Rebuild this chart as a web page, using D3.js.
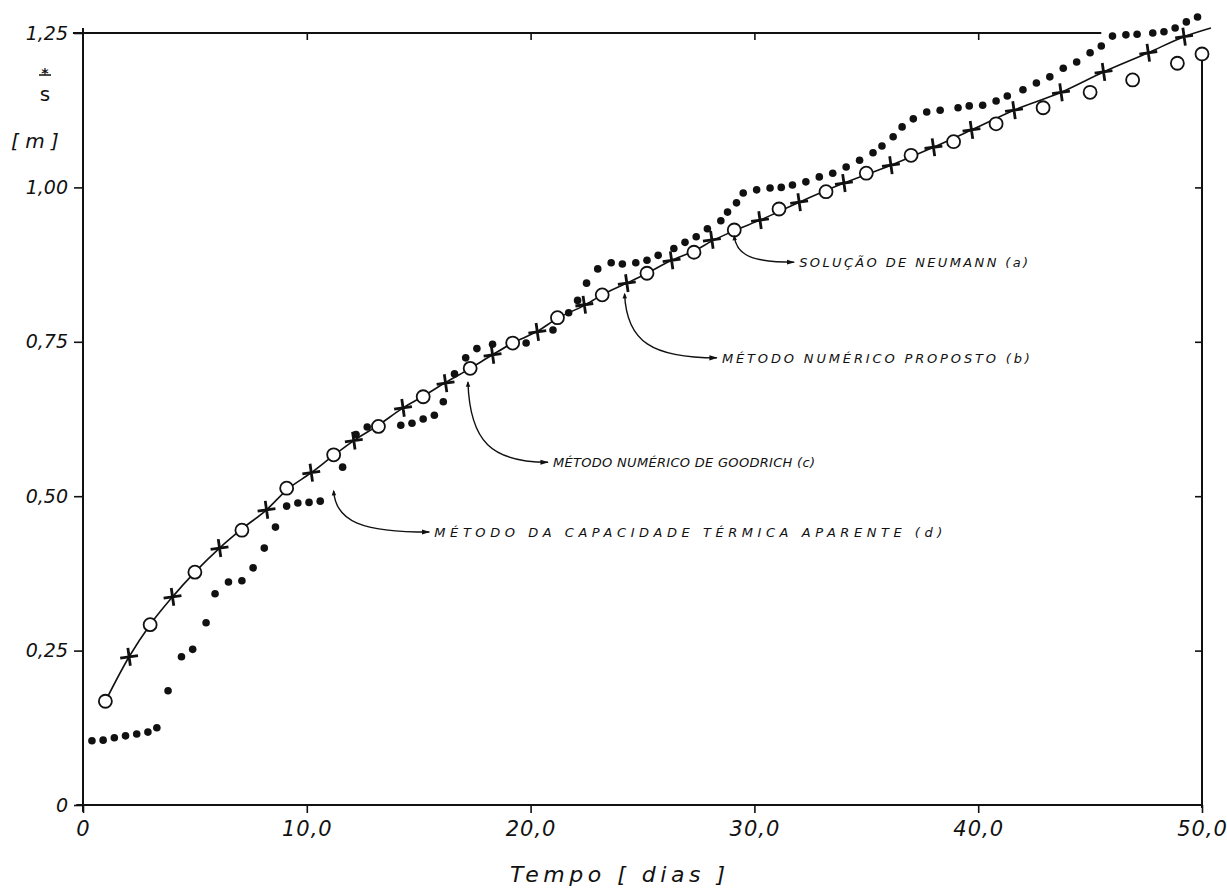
<!DOCTYPE html>
<html>
<head>
<meta charset="utf-8">
<script src="https://cdn.jsdelivr.net/npm/d3@7"></script>
<style>
  body { margin: 0; background: #fff; }
  text { font-family: "DejaVu Sans", sans-serif; fill: #111; }
</style>
</head>
<body>
<div id="chart"></div>
<script>
// axis ticks
var xTicks = [0, 10, 20, 30, 40, 50];
var xTickLabels = ["0", "10,0", "20,0", "30,0", "40,0", "50,0"];
var yTicks = [0, 0.25, 0.5, 0.75, 1.0, 1.25];
var yTickLabels = ["0", "0,25", "0,50", "0,75", "1,00", "1,25"];

// (a) Solução de Neumann - solid curve
var neuT = [1.0, 2.06, 3.0, 4.0, 5.0, 6.1, 7.1, 8.2, 9.1, 10.2, 11.2, 12.1, 13.2, 14.3, 15.2, 16.2, 17.3, 18.3, 19.2, 20.3,
  21.2, 22.4, 23.2, 24.3, 25.2, 26.3, 27.3, 28.1, 29.1, 30.25, 32.0, 34.0, 36.1, 38.0, 39.7, 41.6, 43.7, 45.6, 47.6, 49.2, 50.4];
var neuS = [0.168, 0.240, 0.292, 0.337, 0.377, 0.416, 0.447, 0.478, 0.510, 0.538, 0.566, 0.590, 0.615, 0.643, 0.662, 0.684, 0.707, 0.729, 0.748, 0.767,
  0.788, 0.809, 0.826, 0.845, 0.861, 0.882, 0.897, 0.913, 0.930, 0.947, 0.976, 1.007, 1.036, 1.065, 1.093, 1.125, 1.154, 1.187, 1.218, 1.244, 1.258];

// (b) Método numérico proposto - crosses
var propT = [2.06, 4.0, 6.1, 8.2, 10.2, 12.1, 14.3, 16.2, 18.3, 20.3, 22.4, 24.3, 26.3, 28.1, 30.25, 32.0, 34.0, 36.1, 38.0, 39.7, 41.6, 43.7, 45.6, 47.6, 49.2];
var propS = [0.240, 0.337, 0.416, 0.478, 0.538, 0.590, 0.643, 0.683, 0.729, 0.766, 0.810, 0.845, 0.882, 0.915, 0.947, 0.976, 1.007, 1.036, 1.065, 1.093, 1.125, 1.154, 1.187, 1.218, 1.244];

// (c) Método numérico de Goodrich - open circles
var goodT = [1.0, 3.0, 5.0, 7.1, 9.1, 11.2, 13.2, 15.2, 17.3, 19.2, 21.2, 23.2, 25.2, 27.3, 29.1, 31.1, 33.2, 35.0, 37.0, 38.9, 40.8, 42.9, 45.0, 46.9, 48.9, 50.0];
var goodS = [0.168, 0.292, 0.377, 0.445, 0.513, 0.567, 0.613, 0.661, 0.707, 0.748, 0.789, 0.826, 0.861, 0.895, 0.931, 0.965, 0.993, 1.023, 1.052, 1.074, 1.103, 1.129, 1.154, 1.174, 1.201, 1.216];

// (d) Método da capacidade térmica aparente - dots
var capT = [0.4, 0.9, 1.4, 1.9, 2.4, 2.9, 3.3, 3.8, 4.4, 4.9, 5.5, 5.9, 6.5, 7.1, 7.6, 8.1, 8.6, 9.1, 9.6, 10.1, 10.6, 11.6,
  12.2, 12.7, 14.2, 14.7, 15.2, 15.7, 16.1, 16.6, 17.1, 17.6, 18.3, 19.8, 21.0, 21.7, 22.1, 22.5, 23.0, 23.6, 24.1, 24.7, 25.2,
  25.7, 26.4, 26.9, 27.4, 27.9, 28.5, 28.8, 29.2, 29.5, 30.1, 30.7, 31.2, 31.7, 32.3, 32.9, 33.5, 34.1, 34.7, 35.3, 35.7,
  36.2, 36.6, 37.1, 37.7, 38.3, 39.1, 39.6, 40.2, 40.8, 41.3, 42.0, 42.6, 43.2, 43.8, 44.4, 45.0, 45.5, 46.0, 46.6, 47.1,
  47.8, 48.3, 48.8, 49.3, 49.8];
var capS = [0.104, 0.105, 0.109, 0.112, 0.115, 0.118, 0.125, 0.185, 0.240, 0.252, 0.295, 0.342, 0.361, 0.363, 0.384, 0.416, 0.450, 0.484, 0.489, 0.490, 0.492, 0.547,
  0.600, 0.612, 0.615, 0.618, 0.625, 0.631, 0.653, 0.698, 0.724, 0.739, 0.746, 0.748, 0.769, 0.797, 0.817, 0.845, 0.868, 0.878, 0.876, 0.878, 0.882,
  0.890, 0.901, 0.911, 0.920, 0.933, 0.946, 0.960, 0.975, 0.991, 0.996, 0.999, 1.000, 1.004, 1.009, 1.017, 1.023, 1.033, 1.044, 1.056, 1.067,
  1.082, 1.098, 1.111, 1.122, 1.125, 1.129, 1.132, 1.133, 1.140, 1.148, 1.158, 1.169, 1.179, 1.193, 1.203, 1.218, 1.229, 1.245, 1.247, 1.248,
  1.250, 1.252, 1.258, 1.268, 1.276];

// leader labels
var annLabels = ["SOLUÇÃO  DE  NEUMANN (a)", "MÉTODO  NUMÉRICO  PROPOSTO (b)", "MÉTODO NUMÉRICO  DE  GOODRICH (c)", "MÉTODO  DA  CAPACIDADE  TÉRMICA  APARENTE (d)"];
var annPointT = [29.1, 24.2, 17.2, 11.2];
var annPointS = [0.928, 0.834, 0.691, 0.515];
var annTextT = [32.0, 28.55, 21.0, 15.7];
var annTextS = [0.879, 0.724, 0.555, 0.442];

var W = 1227, H = 892;
var margin = {top: 33, right: 25, bottom: 87, left: 83};

var x = d3.scaleLinear().domain([0, 50]).range([margin.left, W - margin.right]);
var y = d3.scaleLinear().domain([0, 1.25]).range([H - margin.bottom, margin.top]);

var svg = d3.select("#chart").append("svg")
  .attr("width", W)
  .attr("height", H);

var ink = "#111";

// frame (top and right lines are broken near the upper right corner, as drawn)
var frame = svg.append("g").attr("stroke", ink).attr("stroke-width", 2).attr("fill", "none");
frame.append("line").attr("x1", x(0)).attr("x2", x(0)).attr("y1", y(1.258)).attr("y2", y(-0.011));
frame.append("line").attr("x1", x(-0.3)).attr("x2", x(50)).attr("y1", y(0)).attr("y2", y(0));
frame.append("line").attr("x1", x(-0.45)).attr("x2", x(45.5)).attr("y1", y(1.25)).attr("y2", y(1.25));
frame.append("line").attr("x1", x(50)).attr("x2", x(50)).attr("y1", y(1.21)).attr("y2", y(-0.005));

var yAxis = svg.append("g")
  .attr("transform", "translate(" + x(0) + ",0)")
  .call(d3.axisLeft(y).tickValues(yTicks).tickFormat(function(d, i){ return yTickLabels[i]; }).tickSize(9).tickPadding(6));

var xAxis = svg.append("g")
  .attr("transform", "translate(0," + y(0) + ")")
  .call(d3.axisBottom(x).tickValues(xTicks).tickFormat(function(d, i){ return xTickLabels[i]; }).tickSize(8).tickPadding(8));

// inner ticks on top and right
var topTicks = svg.append("g")
  .attr("transform", "translate(0," + y(1.25) + ")")
  .call(d3.axisBottom(x).tickValues(xTicks.slice(1, 5)).tickSize(7).tickFormat(""));
var rightTicks = svg.append("g")
  .attr("transform", "translate(" + x(50) + ",0)")
  .call(d3.axisLeft(y).tickValues(yTicks.slice(1, 5)).tickSize(7).tickFormat(""));

[yAxis, xAxis, topTicks, rightTicks].forEach(function(g){
  g.select(".domain").remove();
  g.selectAll(".tick line").attr("stroke", ink).attr("stroke-width", 1.6);
});

yAxis.selectAll("text")
  .style("font-size", "19px")
  .style("font-style", "italic")
  .attr("fill", ink);
xAxis.selectAll("text")
  .style("font-size", "21px")
  .style("font-style", "italic")
  .style("letter-spacing", "1px")
  .attr("fill", ink);

// axis titles: s with a starred bar, then [m]
svg.append("text")
  .attr("x", 45).attr("y", 78)
  .attr("text-anchor", "middle")
  .style("font-size", "14px")
  .style("font-weight", "bold")
  .text("*");
svg.append("line")
  .attr("x1", 39).attr("x2", 51).attr("y1", 75).attr("y2", 75)
  .attr("stroke", ink).attr("stroke-width", 1.5);
svg.append("text")
  .attr("x", 45).attr("y", 101)
  .attr("text-anchor", "middle")
  .style("font-size", "20px")
  .text("s");

svg.append("text")
  .attr("x", 35).attr("y", 148)
  .attr("text-anchor", "middle")
  .style("font-size", "20px")
  .style("font-style", "italic")
  .text("[ m ]");

svg.append("text")
  .attr("x", (x(0) + x(50)) / 2 - 25)
  .attr("y", 882)
  .attr("text-anchor", "middle")
  .attr("textLength", 215)
  .attr("lengthAdjust", "spacing")
  .style("font-size", "22px")
  .style("font-style", "italic")
  .text("Tempo  [ dias ]");

// (a) Neumann curve
var line = d3.line()
  .x(function(d){ return x(d[0]); })
  .y(function(d){ return y(d[1]); })
  .curve(d3.curveMonotoneX);

svg.append("path")
  .datum(neuT.map(function(t, i){ return [t, neuS[i]]; }))
  .attr("d", line)
  .attr("fill", "none")
  .attr("stroke", ink)
  .attr("stroke-width", 1.6);

// (c) Goodrich circles
svg.append("g").selectAll("circle")
  .data(goodT.map(function(t, i){ return [t, goodS[i]]; }))
  .enter().append("circle")
  .attr("cx", function(d){ return x(d[0]); })
  .attr("cy", function(d){ return y(d[1]); })
  .attr("r", 6.5)
  .attr("fill", "#fff")
  .attr("stroke", ink)
  .attr("stroke-width", 1.8);

// (b) proposed method crosses
var crossSize = 9;
svg.append("g").selectAll("path")
  .data(propT.map(function(t, i){ return [t, propS[i]]; }))
  .enter().append("path")
  .attr("transform", function(d){ return "translate(" + x(d[0]) + "," + y(d[1]) + ") rotate(-8)"; })
  .attr("d", "M" + (-crossSize) + ",0H" + crossSize + "M0," + (-crossSize) + "V" + crossSize)
  .attr("stroke", ink)
  .attr("stroke-width", 2.8)
  .attr("fill", "none");

// (d) apparent heat capacity dots
svg.append("g").selectAll("circle")
  .data(capT.map(function(t, i){ return [t, capS[i]]; }))
  .enter().append("circle")
  .attr("cx", function(d){ return x(d[0]); })
  .attr("cy", function(d){ return y(d[1]); })
  .attr("r", 3.8)
  .attr("fill", ink);

// leader lines and labels
var defs = svg.append("defs");
defs.append("marker")
  .attr("id", "arrow")
  .attr("viewBox", "0 0 10 10")
  .attr("refX", 9).attr("refY", 5)
  .attr("markerWidth", 6).attr("markerHeight", 6)
  .attr("orient", "auto")
  .append("path").attr("d", "M0,2L10,5L0,8z").attr("fill", ink);
defs.append("marker")
  .attr("id", "tail")
  .attr("viewBox", "0 0 10 10")
  .attr("refX", 2).attr("refY", 5)
  .attr("markerWidth", 9).attr("markerHeight", 4)
  .attr("orient", "auto")
  .append("path").attr("d", "M0,5L10,1L10,9z").attr("fill", ink);

var annWidths = [229, 308, 262, 508];

annLabels.forEach(function(lab, i){
  var sx = x(annPointT[i]), sy = y(annPointS[i]) + 4;
  var ex = x(annTextT[i]) - 5, ey = y(annTextS[i]);
  var path = "M" + sx + "," + sy +
    "C" + (sx + 2) + "," + (sy + (ey - sy) * 0.75) + " " + (sx + (ex - sx) * 0.3) + "," + ey + " " + ex + "," + ey;
  svg.append("path")
    .attr("d", path)
    .attr("fill", "none")
    .attr("stroke", ink)
    .attr("stroke-width", 1.4)
    .attr("marker-start", "url(#tail)")
    .attr("marker-end", "url(#arrow)");
  svg.append("text")
    .attr("x", x(annTextT[i]))
    .attr("y", y(annTextS[i]) + 5)
    .attr("textLength", annWidths[i])
    .attr("lengthAdjust", "spacing")
    .style("font-size", "13px")
    .style("font-style", "italic")
    .text(lab);
});
</script>
</body>
</html>
